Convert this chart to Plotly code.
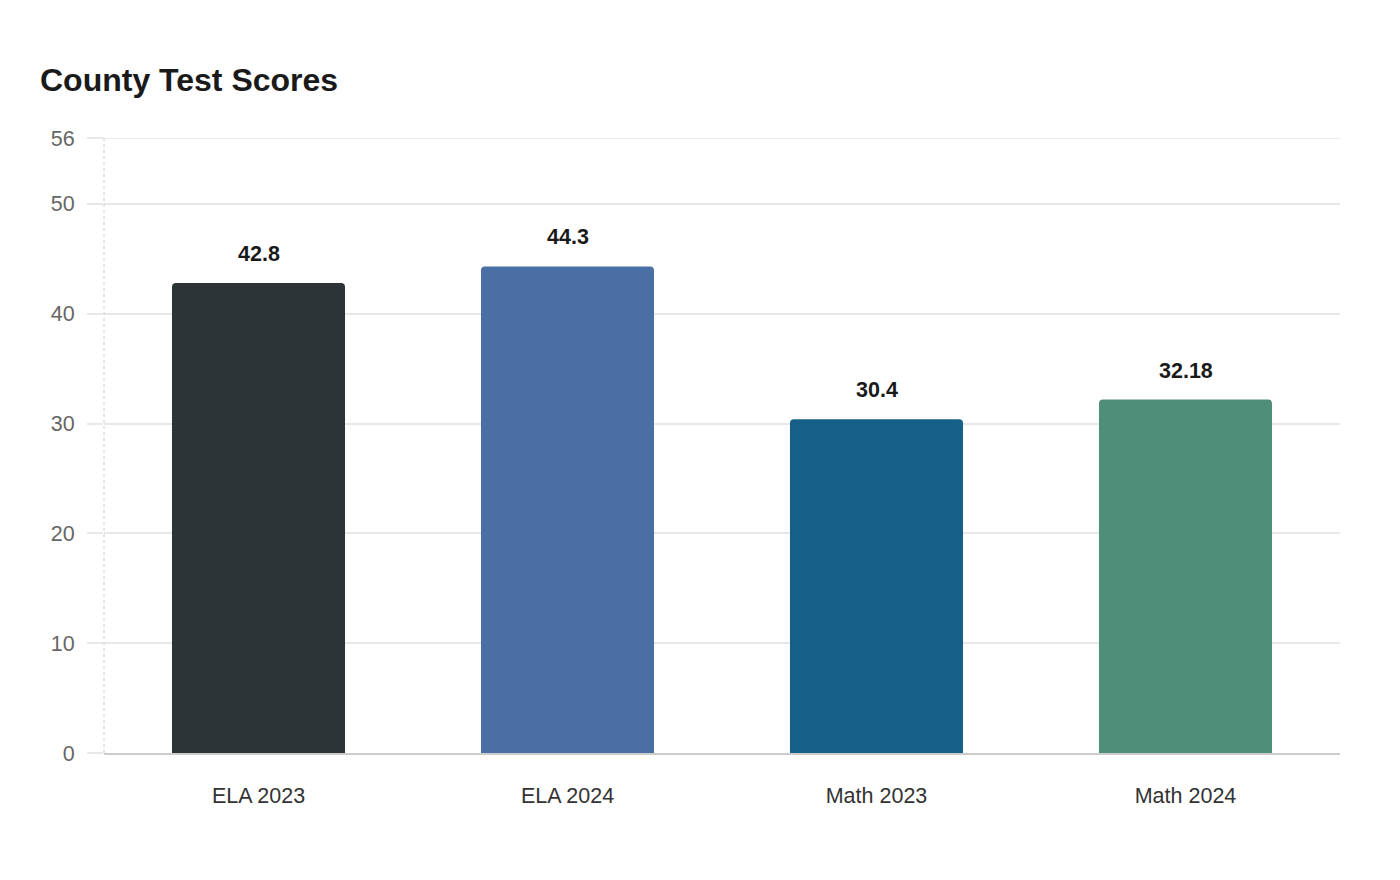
import plotly.graph_objects as go

categories = ["ELA 2023", "ELA 2024", "Math 2023", "Math 2024"]
values = [42.8, 44.3, 30.4, 32.18]
labels = ["42.8", "44.3", "30.4", "32.18"]
colors = ["#2d3436", "#4a6fa5", "#166088", "#4f8f7a"]
y_ticks = [0, 10, 20, 30, 40, 50, 56]

FONT = "Liberation Sans, Arial, sans-serif"
PLOT_W = 1400 - 104 - 60

fig = go.Figure(go.Bar(
    x=categories, y=values,
    marker=dict(color=colors, cornerradius=4, line=dict(width=0)),
    width=0.56,
    hoverinfo="x+y",
))

for c, v, t in zip(categories, values, labels):
    fig.add_annotation(x=c, y=v, text=f"<b>{t}</b>", showarrow=False,
                       yanchor="bottom", yshift=15,
                       font=dict(size=21.5, color="#1a1a1a", family=FONT))

# top gridline (at range edge)
fig.add_shape(type="line", xref="paper", yref="y", x0=-16/PLOT_W, x1=1, y0=56, y1=56,
              line=dict(color="#e6e6e6", width=1.5), layer="below")
# dotted y axis line
fig.add_shape(type="line", xref="x domain", yref="y domain", x0=0, x1=0, y0=0, y1=1,
              line=dict(color="#cccccc", width=1, dash="dot"), layer="above")

fig.update_layout(
    width=1400, height=880,
    paper_bgcolor="white", plot_bgcolor="white",
    margin=dict(l=104, r=60, t=138, b=127),
    font=dict(family=FONT, size=21.5, color="#666666"),
    title=dict(text="<b>County Test Scores</b>", x=40/1400, xref="container", xanchor="left",
               y=1-80/880, yref="container", yanchor="middle",
               font=dict(size=32, color="#1a1a1a", family=FONT)),
    showlegend=False,
    xaxis=dict(showline=True, linecolor="#cccccc", linewidth=2, showgrid=False,
               tickfont=dict(size=21.5, color="#333333"), ticks="", ticklabelstandoff=22),
    yaxis=dict(range=[0, 56], tickvals=y_ticks, showgrid=True, gridcolor="#e8e8e8", gridwidth=1.5,
               zeroline=False, showline=False, ticks="outside", ticklen=16, tickcolor="#e8e8e8",
               tickwidth=1.5, ticklabelstandoff=8, tickfont=dict(size=21.5, color="#666666")),
)

fig.write_html("out.html")
